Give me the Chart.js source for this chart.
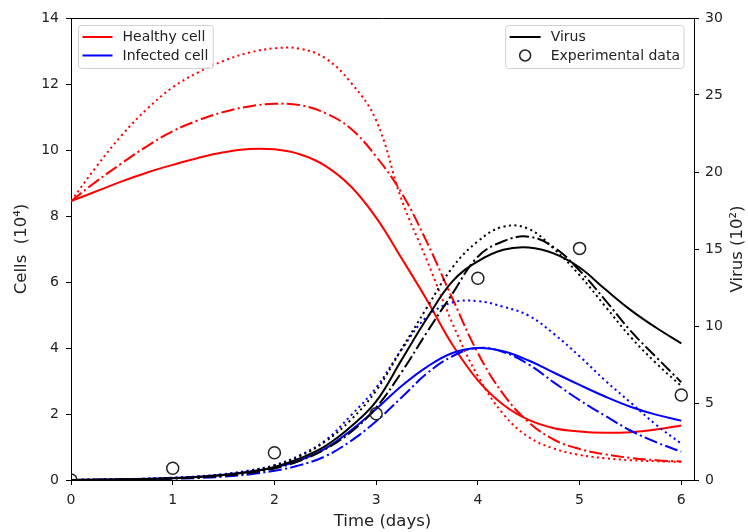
<!DOCTYPE html>
<html>
<head>
<meta charset="utf-8">
<script src="https://cdn.jsdelivr.net/npm/chart.js@4.4.1/dist/chart.umd.min.js"></script>
<style>
html,body{margin:0;padding:0;background:#fff;}
canvas{display:block;}
</style>
</head>
<body>
<canvas id="c" width="748" height="532"></canvas>
<script>
// ---- data ----
const timeDays = [0,0.25,0.5,0.75,1,1.25,1.5,1.75,2,2.25,2.5,2.75,3,3.25,3.5,3.75,4,4.25,4.5,4.75,5,5.25,5.5,5.75,6];

// Healthy cells (10^4)
const healthySolid   = [8.45,8.75,9.05,9.32,9.55,9.76,9.93,10.03,10.02,9.87,9.52,8.9,7.95,6.72,5.45,4.1,3.02,2.28,1.82,1.57,1.47,1.43,1.45,1.53,1.65];
const healthyDashDot = [8.45,9.05,9.6,10.12,10.57,10.9,11.15,11.32,11.4,11.36,11.12,10.65,9.8,8.7,7.2,5.5,3.85,2.6,1.75,1.22,0.94,0.78,0.67,0.6,0.56];
const healthyDotted  = [8.45,9.5,10.45,11.25,11.9,12.35,12.7,12.95,13.08,13.07,12.78,12.05,10.9,8.5,6.65,4.75,3.15,2.0,1.3,0.95,0.76,0.66,0.6,0.57,0.55];

// Infected cells (10^4)
const infectedSolid   = [0,0.01,0.02,0.04,0.06,0.1,0.16,0.25,0.38,0.6,0.95,1.5,2.15,2.85,3.43,3.85,4.0,3.9,3.62,3.25,2.88,2.53,2.22,1.98,1.8];
const infectedDashDot = [0,0.005,0.01,0.02,0.04,0.06,0.1,0.17,0.28,0.45,0.72,1.18,1.78,2.5,3.23,3.75,4.0,3.88,3.5,2.95,2.42,1.95,1.5,1.15,0.86];
const infectedDotted  = [0,0.01,0.02,0.04,0.07,0.11,0.18,0.29,0.45,0.75,1.2,1.95,2.8,3.95,4.95,5.38,5.42,5.25,4.98,4.42,3.75,3.02,2.35,1.68,1.1];

// Virus (10^2)
const virusSolid   = [0,0.02,0.04,0.07,0.12,0.2,0.32,0.52,0.85,1.4,2.2,3.45,5.1,7.8,10.5,12.9,14.2,14.95,15.1,14.7,13.8,12.4,11.05,9.9,8.87];
const virusDashDot = [0,0.015,0.03,0.06,0.1,0.17,0.28,0.45,0.75,1.25,2.0,3.1,4.7,7.0,9.6,12.1,14.5,15.5,15.8,15.1,13.6,11.7,9.7,8.0,6.35];
const virusDotted  = [0,0.02,0.04,0.08,0.13,0.22,0.36,0.58,0.95,1.55,2.5,3.9,5.8,8.5,11.2,13.8,15.5,16.45,16.3,15.0,13.3,11.3,9.3,7.6,6.1];

// Experimental data (virus, 10^2)
const expTime  = [0,1,2,3,4,5,6];
const expVirus = [0,0.76,1.77,4.3,13.1,15.04,5.52];

// tick / label text
const xTicks = [0,1,2,3,4,5,6];
const leftLegendLabels  = ['Healthy cell','Infected cell'];
const rightLegendLabels = ['Virus','Experimental data'];
const rightAxisTitle = 'Virus (10\u00b2)';

// ---- build ----
const pts = (ys) => timeDays.map((t,i)=>({x:t,y:ys[i]}));
const DASHDOT = [13.3,3.3,2.1,3.3];
const DOTTED  = [2.1,3.4];
function line(data, color, dash, axis, order){
  return {data: pts(data), borderColor: color, borderWidth: 2, borderDash: dash,
          pointRadius: 0, fill: false, tension: 0.4,
          yAxisID: axis, order: order, borderCapStyle: 'butt'};
}
const datasets = [
  line(healthySolid, '#ff0000', [], 'y', 3),
  line(healthyDashDot, '#ff0000', DASHDOT, 'y', 3),
  line(healthyDotted, '#ff0000', DOTTED, 'y', 3),
  line(infectedSolid, '#0000ff', [], 'y', 2),
  line(infectedDashDot, '#0000ff', DASHDOT, 'y', 2),
  line(infectedDotted, '#0000ff', DOTTED, 'y', 2),
  line(virusSolid, '#000000', [], 'y1', 1),
  line(virusDashDot, '#000000', DASHDOT, 'y1', 1),
  line(virusDotted, '#000000', DOTTED, 'y1', 1),
  {data: expTime.map((t,i)=>({x:t,y:expVirus[i]})), yAxisID:'y1', showLine:false,
   pointRadius: 6, pointBorderWidth: 1.5, pointBorderColor:'#222', pointBackgroundColor:'rgba(0,0,0,0)',
   pointHoverRadius: 6, order: 0, clip: 0}
];

const FONT = '"DejaVu Sans", sans-serif';
const tickFont = {family: FONT, size: 14};
const titleFont = {family: FONT, size: 16.5};
const gridOpts = {display: true, drawOnChartArea: false, drawTicks: true, tickLength: 5, color: '#000', lineWidth: 1};

const framePlugin = {
  id: 'frameAndLegends',
  afterDraw(chart){
    const ctx = chart.ctx, a = chart.chartArea;
    ctx.save();
    // top spine
    ctx.strokeStyle = '#000'; ctx.lineWidth = 1;
    ctx.beginPath(); ctx.moveTo(a.left, a.top + 0.5); ctx.lineTo(a.right, a.top + 0.5); ctx.stroke();

    // right axis title (reads bottom-to-top)
    ctx.save();
    ctx.font = '16.5px ' + FONT;
    ctx.fillStyle = '#222';
    ctx.textAlign = 'center'; ctx.textBaseline = 'middle';
    ctx.translate(a.right + 44, (a.top + a.bottom) / 2);
    ctx.rotate(-Math.PI / 2);
    ctx.fillText(rightAxisTitle, 0, 0);
    ctx.restore();

    ctx.font = '14px ' + FONT;
    ctx.textBaseline = 'middle';
    ctx.textAlign = 'left';
    function box(x, y, w, h){
      const r = 3;
      ctx.beginPath();
      ctx.moveTo(x + r, y); ctx.lineTo(x + w - r, y); ctx.quadraticCurveTo(x + w, y, x + w, y + r);
      ctx.lineTo(x + w, y + h - r); ctx.quadraticCurveTo(x + w, y + h, x + w - r, y + h);
      ctx.lineTo(x + r, y + h); ctx.quadraticCurveTo(x, y + h, x, y + h - r);
      ctx.lineTo(x, y + r); ctx.quadraticCurveTo(x, y, x + r, y);
      ctx.closePath();
      ctx.fillStyle = 'rgba(255,255,255,0.8)'; ctx.fill();
      ctx.strokeStyle = '#d0d0d0'; ctx.lineWidth = 1; ctx.stroke();
    }
    // left legend
    const lw = Math.max(...leftLegendLabels.map(s => ctx.measureText(s).width));
    const lx = a.left + 7.5, ly = a.top + 7.5, lh = 43;
    box(lx, ly, 44 + lw + 5, lh);
    const lcolors = ['#ff0000', '#0000ff'];
    leftLegendLabels.forEach((s, i) => {
      const yy = ly + 11.5 + i * 18.5;
      ctx.strokeStyle = lcolors[i]; ctx.lineWidth = 2; ctx.setLineDash([]);
      ctx.beginPath(); ctx.moveTo(lx + 4, yy); ctx.lineTo(lx + 34, yy); ctx.stroke();
      ctx.fillStyle = '#222'; ctx.fillText(s, lx + 44, yy + 0.5);
    });
    // right legend
    const rw = Math.max(...rightLegendLabels.map(s => ctx.measureText(s).width));
    const rwTot = 45 + rw + 4;
    const rx = a.right - 10 - rwTot, ry = a.top + 7.5;
    box(rx, ry, rwTot, lh);
    rightLegendLabels.forEach((s, i) => {
      const yy = ry + 11.5 + i * 18.5;
      if (i === 0) {
        ctx.strokeStyle = '#000'; ctx.lineWidth = 2;
        ctx.beginPath(); ctx.moveTo(rx + 4, yy); ctx.lineTo(rx + 35, yy); ctx.stroke();
      } else {
        ctx.strokeStyle = '#222'; ctx.lineWidth = 1.5;
        ctx.beginPath(); ctx.arc(rx + 19.5, yy, 5.5, 0, Math.PI * 2); ctx.stroke();
      }
      ctx.fillStyle = '#222'; ctx.fillText(s, rx + 45, yy + 0.5);
    });
    ctx.restore();
  }
};

new Chart(document.getElementById('c'), {
  type: 'line',
  data: {datasets},
  options: {
    responsive: false,
    animation: false,
    devicePixelRatio: 1,
    layout: {padding: {top: 18, right: 0, left: 0, bottom: 0}},
    plugins: {legend: {display: false}, tooltip: {enabled: false}},
    scales: {
      x: {
        type: 'linear', min: 0, max: 6.125,
        afterFit(s){ s.height = 52; },
        afterBuildTicks(s){ s.ticks = xTicks.map(v => ({value: v})); },
        ticks: {font: tickFont, color: '#222', padding: 7, includeBounds: false, maxRotation: 0},
        grid: gridOpts,
        border: {display: true, color: '#000', width: 1},
        title: {display: true, text: 'Time (days)', font: titleFont, color: '#222', padding: {top: 0, bottom: 0}}
      },
      y: {
        position: 'left', min: 0, max: 14,
        afterFit(s){ s.width = 71; },
        ticks: {font: tickFont, color: '#222', stepSize: 2, padding: 7},
        grid: gridOpts,
        border: {display: true, color: '#000', width: 1},
        title: {display: true, text: 'Cells  (10\u2074)', font: titleFont, color: '#222', padding: {top: 11.5, bottom: 0}}
      },
      y1: {
        position: 'right', min: 0, max: 30,
        afterFit(s){ s.width = 54; },
        ticks: {font: tickFont, color: '#222', stepSize: 5, padding: 6},
        grid: gridOpts,
        border: {display: true, color: '#000', width: 1},
        title: {display: false}
      }
    }
  },
  plugins: [framePlugin]
});
</script>
</body>
</html>
